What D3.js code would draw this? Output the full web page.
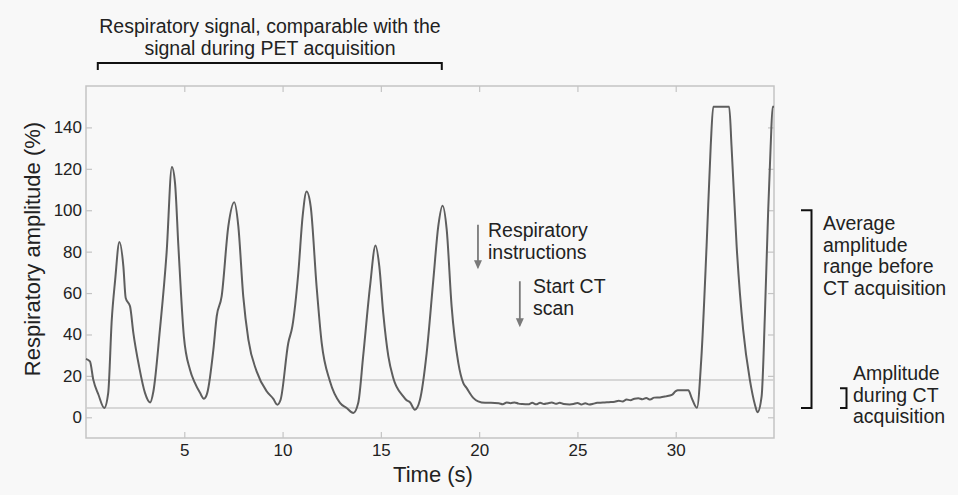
<!DOCTYPE html>
<html>
<head>
<meta charset="utf-8">
<script src="https://cdn.jsdelivr.net/npm/d3@7"></script>
<style>
  body { margin: 0; background: #f8f8f8; }
  svg { display: block; font-family: Arial, "Liberation Sans", sans-serif; }
</style>
</head>
<body>
<svg width="958" height="495"></svg>
<script>
// respiratory trace (time in s, amplitude in %)
var times = [
  0, 0.2, 0.37, 0.63, 0.93, 1.13, 1.31, 1.48, 1.7, 1.9, 2.02, 2.24, 2.41, 2.7, 3.0,
  3.26, 3.43, 3.76, 4.1, 4.37, 4.53, 4.7, 4.98, 5.29, 5.54, 5.8, 6.0, 6.17, 6.48, 6.65,
  6.9, 7.24, 7.54, 7.75, 8.0, 8.26, 8.68, 9.19, 9.53, 9.73, 9.9, 10.29, 10.5, 10.8, 11.02,
  11.22, 11.43, 11.73, 11.99, 12.41, 12.92, 13.26, 13.6, 13.85, 14.1, 14.45, 14.73, 14.92, 15.12, 15.38,
  15.63, 16.14, 16.31, 16.48, 16.73, 16.99, 17.33, 17.67, 17.92, 18.14, 18.35, 18.6, 18.94, 19.19, 19.36,
  19.7, 19.95, 20.3, 20.6, 21.0, 21.2, 21.4, 21.6, 21.8, 22.0, 22.2, 22.5, 22.7, 22.9, 23.1,
  23.3, 23.5, 23.7, 23.9, 24.1, 24.3, 24.6, 24.8, 25.0, 25.2, 25.4, 25.6, 25.8, 26.0, 26.3,
  26.6, 26.9, 27.1, 27.3, 27.5, 27.7, 27.9, 28.1, 28.3, 28.5, 28.7, 28.9, 29.2, 29.5, 29.8,
  30.0, 30.1, 30.64, 30.81, 31.08, 31.3, 31.57, 31.78, 31.91, 32.72, 32.84, 33.1, 33.43, 33.77,
  34.03, 34.16, 34.37, 34.54, 34.7, 34.83, 34.93, 35
]
var amplitude = [
  28.2, 27, 18.2, 11, 4.5, 11.8, 47, 66, 84.7, 73, 57.6, 53.6, 40.7, 24.6, 11.8,
  7.2, 12.6, 42.3, 79.4, 120.9, 113, 82.6, 39, 23, 16.6, 11.8, 9, 11.8, 32.7, 48.8,
  58.4, 92.2, 103.8, 92.2, 58.4, 37.5, 22.2, 12.6, 8.9, 6.1, 8.5, 35.9, 44, 69.7, 97,
  109, 101.9, 63.3, 35.9, 17.4, 7, 4.5, 2.1, 7, 29.5, 63.3, 83, 73, 50.4, 29.5,
  19, 10.1, 8.2, 7.3, 3.7, 8.5, 31, 66.5, 92.2, 102.2, 90.6, 53.6, 26.3, 16.6, 14.2,
  9.4, 7.7, 7, 7, 6.8, 6.3, 7.2, 6.8, 7.2, 6.6, 6.4, 6.3, 7, 6.3, 7,
  6.4, 6.8, 7.1, 6.5, 7, 6.4, 6.2, 6.4, 6.9, 6.2, 6.8, 6.2, 6.5, 7, 7.1,
  7.3, 7.5, 8, 7.6, 8.6, 8.2, 9, 9.2, 8.7, 9.3, 8.6, 9.5, 9.6, 10.1, 10.8,
  12.6, 13.1, 13.1, 9.4, 4.6, 28, 82.6, 130.9, 150, 150, 130.9, 82.6, 42.3, 18.2,
  6.1, 2.4, 10.1, 50.4, 98.7, 131, 150, 150
]

var xTicks = [5, 10, 15, 20, 25, 30]
var yTicks = [0, 20, 40, 60, 80, 100, 120, 140]
var refLines = [18, 4.5]           // amplitude range during CT
var rangeBefore = [4.5, 100]       // average range before CT
var rangeDuring = [4.5, 14]
var petSpan = [0.6, 18.1]          // top bracket, in seconds

;(function (d3) {
  var svg = d3.select('svg')
  var mLeft = 86, mRight = 774, mTop = 86, mBottom = 438

  var x = d3.scaleLinear().domain([0, 35]).range([mLeft, mRight])
  var y = d3.scaleLinear().domain([-10, 160]).range([mBottom, mTop])

  var axisColor = '#c4c4c4'
  var textColor = '#222'

  // axes, ticks pointing inward
  function styleAxis (g) {
    g.select('.domain').remove()
    g.selectAll('.tick line').attr('stroke', axisColor).attr('stroke-width', 1.2)
    g.selectAll('.tick text').attr('fill', textColor).style('font-size', '17px')
  }

  svg.append('g')
    .attr('transform', 'translate(0,' + mBottom + ')')
    .call(d3.axisBottom(x).tickValues(xTicks).tickSize(-6).tickPadding(6))
    .call(styleAxis)

  svg.append('g')
    .attr('transform', 'translate(0,' + mTop + ')')
    .call(d3.axisTop(x).tickValues(xTicks).tickSize(-6).tickFormat(''))
    .call(styleAxis)

  svg.append('g')
    .attr('transform', 'translate(' + mLeft + ',0)')
    .call(d3.axisLeft(y).tickValues(yTicks).tickSize(-6).tickPadding(4))
    .call(styleAxis)

  svg.append('g')
    .attr('transform', 'translate(' + mRight + ',0)')
    .call(d3.axisRight(y).tickValues(yTicks).tickSize(-6).tickFormat(''))
    .call(styleAxis)

  svg.append('rect')
    .attr('x', mLeft).attr('y', mTop)
    .attr('width', mRight - mLeft).attr('height', mBottom - mTop)
    .attr('fill', 'none')
    .attr('stroke', axisColor)
    .attr('stroke-width', 1.5)

  // reference lines
  svg.selectAll('.ref')
    .data(refLines)
    .enter()
    .append('line')
    .attr('x1', mLeft).attr('x2', mRight)
    .attr('y1', function (d) { return y(d) })
    .attr('y2', function (d) { return y(d) })
    .attr('stroke', '#cdcdcd')
    .attr('stroke-width', 1.6)

  // the trace
  var ln = d3.line()
    .x(function (d) { return x(d[0]) })
    .y(function (d) { return y(d[1]) })
    .curve(d3.curveMonotoneX)

  svg.append('path')
    .datum(d3.zip(times, amplitude))
    .attr('d', ln)
    .attr('fill', 'none')
    .attr('stroke', '#5e5e5e')
    .attr('stroke-width', 2)
    .attr('stroke-linejoin', 'round')

  // labels
  svg.append('text')
    .attr('x', 433).attr('y', 482)
    .attr('text-anchor', 'middle')
    .attr('fill', textColor)
    .style('font-size', '22px')
    .text('Time (s)')

  svg.append('text')
    .attr('transform', 'translate(40,249) rotate(-90)')
    .attr('text-anchor', 'middle')
    .attr('fill', textColor)
    .style('font-size', '22px')
    .text('Respiratory amplitude (%)')

  function lines (txt, x0, y0, anchor) {
    var t = svg.append('text')
      .attr('x', x0).attr('y', y0)
      .attr('text-anchor', anchor)
      .attr('fill', textColor)
      .style('font-size', '19.5px')
    txt.forEach(function (s, i) {
      t.append('tspan').attr('x', x0).attr('dy', i ? 21.5 : 0).text(s)
    })
  }

  lines(['Respiratory signal, comparable with the', 'signal during PET acquisition'], 270, 33, 'middle')

  // top bracket
  var by = 63
  svg.append('path')
    .attr('d', 'M' + x(petSpan[0]) + ',' + (by + 7) + 'V' + by + 'H' + x(petSpan[1]) + 'V' + (by + 7))
    .attr('fill', 'none')
    .attr('stroke', '#111')
    .attr('stroke-width', 2)

  // arrows
  function arrow (t, v0, v1) {
    var ax = x(t), y0 = y(v0), y1 = y(v1)
    svg.append('line')
      .attr('x1', ax).attr('x2', ax).attr('y1', y0).attr('y2', y1 - 2)
      .attr('stroke', '#7a7a7a').attr('stroke-width', 1.8)
    svg.append('path')
      .attr('d', 'M' + (ax - 4) + ',' + (y1 - 9) + 'L' + ax + ',' + y1 + 'L' + (ax + 4) + ',' + (y1 - 9) + 'Z')
      .attr('fill', '#7a7a7a')
  }
  arrow(19.94, 93, 71.5)
  arrow(22.07, 65.7, 43.5)
  lines(['Respiratory', 'instructions'], 488, 237, 'start')
  lines(['Start CT', 'scan'], 533, 293, 'start')

  // right brackets
  function bracket (xr, w, r) {
    svg.append('path')
      .attr('d', 'M' + (xr - w) + ',' + y(r[1]) + 'H' + xr + 'V' + y(r[0]) + 'H' + (xr - w))
      .attr('fill', 'none')
      .attr('stroke', '#111')
      .attr('stroke-width', 2)
  }
  bracket(811.5, 10.5, rangeBefore)
  bracket(846.5, 6.5, rangeDuring)
  lines(['Average', 'amplitude', 'range before', 'CT acquisition'], 823, 230, 'start')
  lines(['Amplitude', 'during CT', 'acquisition'], 853, 380, 'start')
})(window.d3)
</script>
</body>
</html>
